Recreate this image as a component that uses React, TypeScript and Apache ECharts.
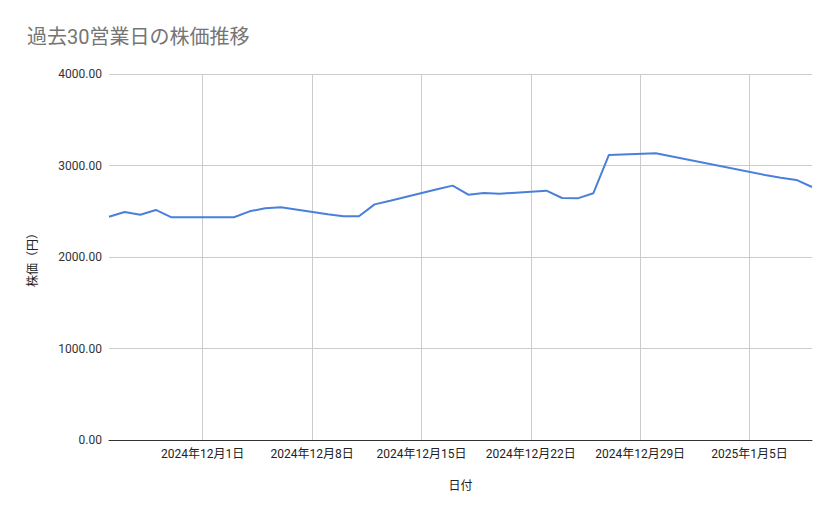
import React, { useEffect, useRef } from "react";
import * as echarts from "echarts";

const titleText = "過去30営業日の株価推移";
const xAxisName = "日付";
const yAxisName = "株価（円）";

const dates = [
  "2024-11-25", "2024-11-26", "2024-11-27", "2024-11-28", "2024-11-29",
  "2024-12-02", "2024-12-03", "2024-12-04", "2024-12-05", "2024-12-06",
  "2024-12-09", "2024-12-10", "2024-12-11", "2024-12-12", "2024-12-13",
  "2024-12-16", "2024-12-17", "2024-12-18", "2024-12-19", "2024-12-20",
  "2024-12-23", "2024-12-24", "2024-12-25", "2024-12-26", "2024-12-27",
  "2024-12-30", "2025-01-06", "2025-01-07", "2025-01-08", "2025-01-09",
];

const prices = [
  2440, 2492, 2462, 2514, 2434,
  2434, 2434, 2499, 2532, 2543,
  2467, 2445, 2445, 2575, 2615,
  2740, 2780, 2681, 2699, 2692,
  2725, 2645, 2641, 2696, 3115,
  3133, 2896, 2867, 2842, 2765,
];

const tickDates = [
  "2024-12-01", "2024-12-08", "2024-12-15", "2024-12-22", "2024-12-29", "2025-01-05",
];

const xRange = ["2024-11-25", "2025-01-09"];
const yRange = [0, 4000];
const yStep = 1000;

const DAY = 86400000;

// day number since 1970-01-01 (UTC)
function toDay(s: string): number {
  const [y, m, d] = s.split("-").map(Number);
  return Math.round(Date.UTC(y, m - 1, d) / DAY);
}

function fmtDay(v: number): string {
  const d = new Date(Math.round(v) * DAY);
  return `${d.getUTCFullYear()}年${d.getUTCMonth() + 1}月${d.getUTCDate()}日`;
}

const FONT = "Roboto, 'Noto Sans CJK JP', sans-serif";

export default function App() {
  const ref = useRef<HTMLDivElement>(null);

  useEffect(() => {
    document.body.style.margin = "0";
    if (!ref.current) return;
    const chart = echarts.init(ref.current, undefined, { renderer: "svg" });
    const tickDays = tickDates.map(toDay);
    chart.setOption({
      animation: false,
      backgroundColor: "#ffffff",
      textStyle: { fontFamily: FONT },
      title: {
        text: titleText,
        left: 27,
        top: 27,
        padding: 0,
        textStyle: { fontSize: 20, fontWeight: "normal", color: "#757575", fontFamily: FONT },
      },
      grid: { left: 109, right: 27, top: 74, bottom: 79, containLabel: false },
      xAxis: {
        type: "value",
        min: toDay(xRange[0]),
        max: toDay(xRange[1]),
        name: xAxisName,
        nameLocation: "middle",
        nameGap: 40,
        nameTextStyle: { fontSize: 12, color: "#222", fontFamily: FONT },
        axisLine: { show: true, onZero: false, lineStyle: { color: "#333", width: 1 } },
        axisTick: { show: false, customValues: tickDays },
        axisLabel: {
          customValues: tickDays,
          formatter: (v: number) => fmtDay(v),
          fontSize: 12,
          color: "#222",
          margin: 8,
          fontFamily: FONT,
          showMinLabel: true,
          showMaxLabel: true,
        },
        splitLine: { show: true, lineStyle: { color: "#cccccc", width: 1 } },
      },
      yAxis: {
        type: "value",
        min: yRange[0],
        max: yRange[1],
        interval: yStep,
        name: yAxisName,
        nameLocation: "middle",
        nameGap: 70,
        nameTextStyle: { fontSize: 12, color: "#222", fontFamily: FONT },
        axisLine: { show: false },
        axisTick: { show: false },
        axisLabel: {
          formatter: (v: number) => v.toFixed(2),
          fontSize: 12,
          color: "#333",
          margin: 7,
          fontFamily: FONT,
        },
        splitLine: { show: true, lineStyle: { color: "#cccccc", width: 1 } },
      },
      series: [
        {
          type: "line",
          data: dates.map((d, i) => [toDay(d), prices[i]]),
          showSymbol: false,
          symbol: "none",
          lineStyle: { color: "#4a80da", width: 2 },
          itemStyle: { color: "#4a80da" },
        },
      ],
    });
    return () => chart.dispose();
  }, []);

  return <div ref={ref} style={{ width: 839, height: 519 }} />;
}
